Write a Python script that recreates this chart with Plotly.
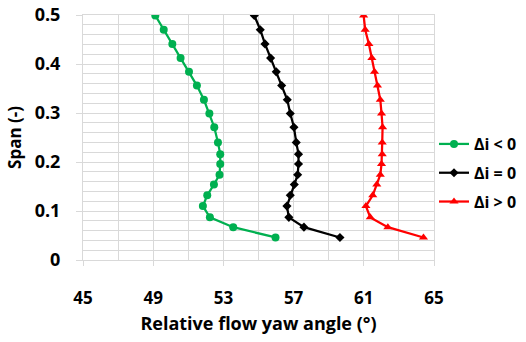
import plotly.graph_objects as go

# Spanwise stations and relative flow yaw angle (deg) for each incidence case
span = [0.499, 0.470, 0.441, 0.412, 0.384, 0.356, 0.327, 0.299, 0.271, 0.240,
        0.216, 0.196, 0.174, 0.154, 0.132, 0.110, 0.087, 0.067, 0.046]

yaw_neg = [49.12, 49.60, 50.09, 50.56, 51.04, 51.49, 51.89, 52.20, 52.48, 52.69,
           52.82, 52.82, 52.78, 52.46, 52.08, 51.83, 52.23, 53.56, 55.97]
yaw_zero = [54.76, 55.10, 55.37, 55.69, 56.01, 56.32, 56.64, 56.81, 57.02, 57.15,
            57.28, 57.28, 57.23, 57.04, 56.81, 56.62, 56.73, 57.59, 59.64]
yaw_pos = [60.99, 61.08, 61.29, 61.46, 61.61, 61.78, 61.94, 62.01, 62.07, 62.05,
           62.05, 62.01, 61.94, 61.74, 61.51, 61.12, 61.37, 62.37, 64.40]

series_names = ["Δi < 0", "Δi = 0", "Δi > 0"]
x_ticks = [45, 49, 53, 57, 61, 65]
y_ticks = [0, 0.1, 0.2, 0.3, 0.4, 0.5]

FONT = "Open Sans"
GRID = "#d9d9d9"

fig = go.Figure()
styles = [
    ("#00B050", "circle", 8),
    ("#000000", "diamond", 7),
    ("#FF0000", "triangle-up", 8),
]
for name, xs, (col, sym, sz) in zip(series_names, [yaw_neg, yaw_zero, yaw_pos], styles):
    fig.add_trace(go.Scatter(
        x=xs, y=span, name=name, mode="lines+markers", legendgroup=name,
        line=dict(color=col, width=2.25),
        marker=dict(color=col, symbol=sym, size=sz),
    ))

fig.update_layout(
    width=526, height=342,
    margin=dict(l=83, r=92, t=15, b=82, autoexpand=False),
    paper_bgcolor="white", plot_bgcolor="white",
    font=dict(family=FONT, color="#000000"),
    legend=dict(
        x=1.0, y=0.355, xanchor="left", yanchor="middle",
        font=dict(family=FONT, size=16, color="#000000", weight="bold"),
        itemwidth=30, tracegroupgap=5,
        bgcolor="rgba(0,0,0,0)",
    ),
)

fig.update_xaxes(
    range=[45, 65], tickvals=x_ticks, ticktext=[str(v) for v in x_ticks],
    showgrid=True, gridcolor=GRID, gridwidth=1,
    minor=dict(dtick=2, tick0=45, showgrid=True, gridcolor=GRID, gridwidth=1, ticks=""),
    showline=True, linecolor=GRID, linewidth=1, mirror=True,
    ticks="outside", ticklen=5, tickcolor=GRID,
    ticklabelstandoff=18,
    tickfont=dict(family=FONT, size=17, weight="bold"),
    title=dict(text="Relative flow yaw angle (°)", standoff=8,
               font=dict(family=FONT, size=18, weight="bold")),
    zeroline=False,
)
fig.update_yaxes(
    range=[0, 0.5], tickvals=y_ticks, ticktext=["0", "0.1", "0.2", "0.3", "0.4", "0.5"],
    showgrid=True, gridcolor=GRID, gridwidth=1,
    minor=dict(dtick=0.02, tick0=0, showgrid=True, gridcolor=GRID, gridwidth=1, ticks=""),
    showline=True, linecolor=GRID, linewidth=1, mirror=True,
    ticks="outside", ticklen=6, tickcolor=GRID,
    ticklabelstandoff=12,
    tickfont=dict(family=FONT, size=18, weight="bold"),
    title=dict(text="Span (-)", standoff=8,
               font=dict(family=FONT, size=17, weight="bold")),
    zeroline=False,
)

fig.write_html("out.html")
